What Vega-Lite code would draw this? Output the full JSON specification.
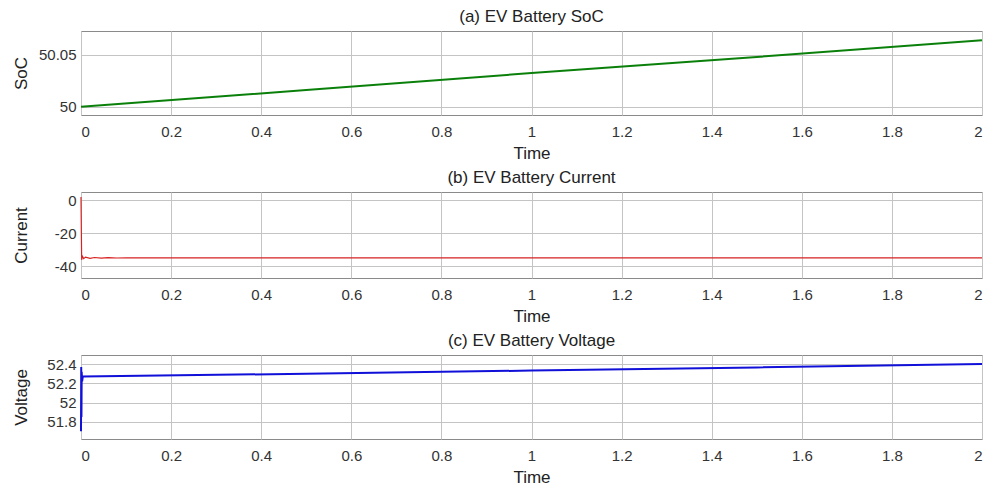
{
  "$schema": "https://vega.github.io/schema/vega-lite/v6.json",
  "background": "white",
  "padding": {"left": 11, "top": 7, "right": 5, "bottom": 0},
  "spacing": 6,
  "config": {
    "font": "Liberation Sans",
    "view": {"stroke": "#8a8a8a", "strokeWidth": 1},
    "title": {"fontSize": 17, "fontWeight": "normal", "color": "#222222", "offset": 5},
    "axis": {
      "labelFont": "Liberation Sans",
      "titleFont": "Liberation Sans",
      "labelFontSize": 15,
      "titleFontSize": 17,
      "titleFontWeight": "normal",
      "labelColor": "#333333",
      "titleColor": "#222222",
      "gridColor": "#c4c4c4",
      "gridOpacity": 1,
      "gridWidth": 1,
      "domain": false,
      "ticks": false,
      "tickSize": 0
    },
    "axisX": {"labelPadding": 9, "titlePadding": 6},
    "axisY": {"labelPadding": 5}
  },
  "datasets": {
    "soc": [
      {"Time": 0, "SoC": 50.0},
      {"Time": 0.5, "SoC": 50.016},
      {"Time": 1, "SoC": 50.0325},
      {"Time": 1.5, "SoC": 50.048},
      {"Time": 2, "SoC": 50.064}
    ],
    "current": [
      {"Time": 0, "Current": 2},
      {"Time": 0.0008, "Current": -20},
      {"Time": 0.0015, "Current": -36},
      {"Time": 0.003, "Current": -33.8},
      {"Time": 0.006, "Current": -35.3},
      {"Time": 0.01, "Current": -34.4},
      {"Time": 0.02, "Current": -35.1},
      {"Time": 0.03, "Current": -34.6},
      {"Time": 0.045, "Current": -35.0},
      {"Time": 0.06, "Current": -34.7},
      {"Time": 0.08, "Current": -34.9},
      {"Time": 0.1, "Current": -34.8},
      {"Time": 1, "Current": -34.8},
      {"Time": 2, "Current": -34.8}
    ],
    "voltage": [
      {"Time": 0, "Voltage": 51.7},
      {"Time": 0.0005, "Voltage": 52.37},
      {"Time": 0.001, "Voltage": 51.85},
      {"Time": 0.0015, "Voltage": 52.32},
      {"Time": 0.0025, "Voltage": 52.22},
      {"Time": 0.004, "Voltage": 52.27},
      {"Time": 0.5, "Voltage": 52.3},
      {"Time": 1, "Voltage": 52.333},
      {"Time": 1.5, "Voltage": 52.366},
      {"Time": 2, "Voltage": 52.4}
    ]
  },
  "vconcat": [
    {
      "title": "(a) EV Battery SoC",
      "width": 901,
      "height": 84,
      "data": {"name": "soc"},
      "mark": {"type": "line", "color": "#0a800a", "strokeWidth": 2, "clip": false},
      "encoding": {
        "x": {"field": "Time", "type": "quantitative", "title": "Time",
              "scale": {"domain": [0, 2], "nice": false},
              "axis": {"values": [0, 0.2, 0.4, 0.6, 0.8, 1, 1.2, 1.4, 1.6, 1.8, 2], "labelExpr": "'' + datum.value"}},
        "y": {"field": "SoC", "type": "quantitative", "title": "SoC",
              "scale": {"domain": [49.992, 50.073], "nice": false, "zero": false},
              "axis": {"values": [50, 50.05], "labelExpr": "'' + datum.value", "titleX": -60, "titleY": 42, "titleBaseline": "middle", "titleAlign": "center"}}
      }
    },
    {
      "title": "(b) EV Battery Current",
      "width": 901,
      "height": 86,
      "data": {"name": "current"},
      "mark": {"type": "line", "color": "#d82222", "strokeWidth": 1.2, "clip": false},
      "encoding": {
        "x": {"field": "Time", "type": "quantitative", "title": "Time",
              "scale": {"domain": [0, 2], "nice": false},
              "axis": {"values": [0, 0.2, 0.4, 0.6, 0.8, 1, 1.2, 1.4, 1.6, 1.8, 2], "labelExpr": "'' + datum.value"}},
        "y": {"field": "Current", "type": "quantitative", "title": "Current",
              "scale": {"domain": [-47, 5], "nice": false, "zero": false},
              "axis": {"values": [-40, -20, 0], "labelExpr": "'' + datum.value", "titleX": -60, "titleY": 43, "titleBaseline": "middle", "titleAlign": "center"}}
      }
    },
    {
      "title": "(c) EV Battery Voltage",
      "width": 901,
      "height": 84,
      "data": {"name": "voltage"},
      "mark": {"type": "line", "color": "#1010d8", "strokeWidth": 2, "clip": false},
      "encoding": {
        "x": {"field": "Time", "type": "quantitative", "title": "Time",
              "scale": {"domain": [0, 2], "nice": false},
              "axis": {"values": [0, 0.2, 0.4, 0.6, 0.8, 1, 1.2, 1.4, 1.6, 1.8, 2], "labelExpr": "'' + datum.value"}},
        "y": {"field": "Voltage", "type": "quantitative", "title": "Voltage",
              "scale": {"domain": [51.62, 52.495], "nice": false, "zero": false},
              "axis": {"values": [51.8, 52, 52.2, 52.4], "labelExpr": "'' + datum.value", "titleX": -60, "titleY": 42, "titleBaseline": "middle", "titleAlign": "center"}}
      }
    }
  ]
}
